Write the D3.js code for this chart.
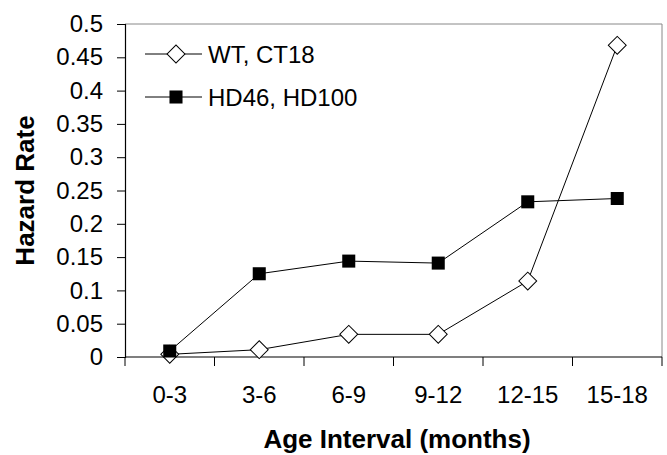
<!DOCTYPE html>
<html>
<head>
<meta charset="utf-8">
<script src="https://cdn.jsdelivr.net/npm/d3@7"></script>
<style>
  body { margin: 0; background: #fff; }
  svg { font-family: "Liberation Sans", Arial, sans-serif; }
</style>
</head>
<body>
<div id="chart"></div>
<script>
const categories = ['0-3', '3-6', '6-9', '9-12', '12-15', '15-18'];
const wtValues = [0.004, 0.011, 0.034, 0.034, 0.114, 0.468];
const hdValues = [0.009, 0.125, 0.144, 0.141, 0.233, 0.238];
const yTicks = [0, 0.05, 0.1, 0.15, 0.2, 0.25, 0.3, 0.35, 0.4, 0.45, 0.5];
const seriesNames = ['WT, CT18', 'HD46, HD100'];

const W = 667, H = 455;
const margin = { top: 24, right: 5, bottom: 98, left: 125 };
const width = W - margin.left - margin.right;
const height = H - margin.top - margin.bottom;

const svg = d3.select('#chart').append('svg')
    .attr('width', W)
    .attr('height', H);

const g = svg.append('g')
    .attr('transform', `translate(${margin.left},${margin.top})`);

const x = d3.scaleBand().domain(categories).range([0, width]);
const y = d3.scaleLinear().domain([0, 0.5]).range([height, 0]);

// frame (top and right, light grey)
g.append('line').attr('x1', 0).attr('x2', width).attr('y1', 0).attr('y2', 0)
    .attr('stroke', '#888').attr('stroke-width', 1);
g.append('line').attr('x1', width).attr('x2', width).attr('y1', 0).attr('y2', height)
    .attr('stroke', '#888').attr('stroke-width', 1);

// y axis
const yAxis = d3.axisLeft(y).tickValues(yTicks).tickSize(8).tickPadding(14)
    .tickFormat(d => String(+d.toFixed(2)));
const yg = g.append('g').call(yAxis);
yg.select('.domain').attr('stroke', '#000').attr('stroke-width', 1.2);
yg.selectAll('.tick line').attr('stroke', '#000');
yg.selectAll('.tick text').attr('font-size', '24px').attr('fill', '#000')
    .attr('font-family', '"Liberation Sans", Arial, sans-serif');

// x axis with ticks at band boundaries
const xg = g.append('g').attr('transform', `translate(0,${height})`);
xg.append('line').attr('x1', 0).attr('x2', width).attr('y1', 0).attr('y2', 0)
    .attr('stroke', '#000').attr('stroke-width', 1.2);
const boundaries = categories.map(c => x(c)).concat([width]);
xg.selectAll('.xtick').data(boundaries).enter().append('line')
    .attr('class', 'xtick')
    .attr('x1', d => d).attr('x2', d => d)
    .attr('y1', 0).attr('y2', 9)
    .attr('stroke', '#000');
xg.selectAll('.xlabel').data(categories).enter().append('text')
    .attr('class', 'xlabel')
    .attr('x', d => x(d) + x.bandwidth() / 2)
    .attr('y', 46)
    .attr('text-anchor', 'middle')
    .attr('font-size', '24px')
    .text(d => d);

// axis titles
svg.append('text')
    .attr('x', 397)
    .attr('y', 448)
    .attr('text-anchor', 'middle')
    .attr('font-size', '26px')
    .attr('font-weight', 'bold')
    .text('Age Interval (months)');
svg.append('text')
    .attr('transform', `translate(34,${margin.top + height / 2}) rotate(-90)`)
    .attr('text-anchor', 'middle')
    .attr('font-size', '26px')
    .attr('font-weight', 'bold')
    .text('Hazard Rate');

// lines
const cx = (d, i) => x(categories[i]) + x.bandwidth() / 2;
const line = d3.line().x(cx).y(d => y(d));

g.append('path').datum(hdValues).attr('d', line)
    .attr('fill', 'none').attr('stroke', '#000').attr('stroke-width', 1);
g.append('path').datum(wtValues).attr('d', line)
    .attr('fill', 'none').attr('stroke', '#000').attr('stroke-width', 1);

const diamond = d3.symbol().type(d3.symbolSquare).size(160);
const square = d3.symbol().type(d3.symbolSquare).size(170);

g.selectAll('.wt').data(wtValues).enter().append('path')
    .attr('class', 'wt')
    .attr('d', diamond)
    .attr('transform', (d, i) => `translate(${cx(d, i)},${y(d)}) rotate(45)`)
    .attr('fill', '#fff').attr('stroke', '#000').attr('stroke-width', 1);

g.selectAll('.hd').data(hdValues).enter().append('path')
    .attr('class', 'hd')
    .attr('d', square)
    .attr('transform', (d, i) => `translate(${cx(d, i)},${y(d)})`)
    .attr('fill', '#000');

// legend
const legend = svg.append('g');
const legRows = [
  { name: seriesNames[0], y: 54, sym: 'diamond' },
  { name: seriesNames[1], y: 97, sym: 'square' }
];
legRows.forEach(r => {
  legend.append('line').attr('x1', 145).attr('x2', 202).attr('y1', r.y).attr('y2', r.y)
      .attr('stroke', '#000').attr('stroke-width', 1);
  if (r.sym === 'diamond') {
    legend.append('path').attr('d', diamond)
        .attr('transform', `translate(176,${r.y}) rotate(45)`)
        .attr('fill', '#fff').attr('stroke', '#000');
  } else {
    legend.append('path').attr('d', square)
        .attr('transform', `translate(176,${r.y})`)
        .attr('fill', '#000');
  }
  legend.append('text').attr('x', 208).attr('y', r.y + 9)
      .attr('font-size', '24px').text(r.name);
});
</script>
</body>
</html>
